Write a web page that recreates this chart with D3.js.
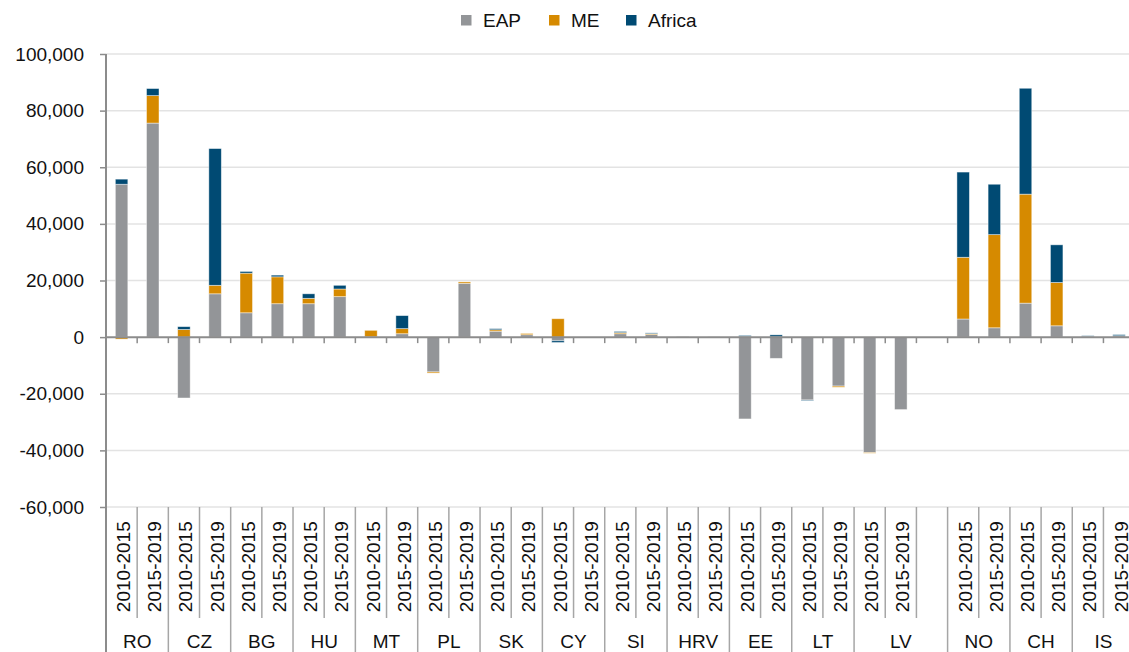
<!DOCTYPE html>
<html>
<head>
<meta charset="utf-8">
<script src="https://cdn.jsdelivr.net/npm/d3@7"></script>
<style>
  html, body { margin: 0; padding: 0; background: #fff; }
  svg { display: block; font-family: "Liberation Sans", Arial, sans-serif; }
</style>
</head>
<body>
<svg id="chart" width="1129" height="652"></svg>
<script>
// ---- data ----
const countries = ["RO","CZ","BG","HU","MT","PL","SK","CY","SI","HRV","EE","LT","LV","NO","CH","IS"];
const periods = ["2010-2015","2015-2019"];
const seriesNames = ["EAP","ME","Africa"];
// values per country: [2010-2015, 2015-2019]
const eap    = [54000,75600, -21500,15300, 8600,11800, 11800,14300, 100,1200, -12300,19000, 2100,850, -1300,0, 1200,900, 200,100, -28900,-7500, -22200,-17300, -40800,-25600, 6400,3300, 12000,4000, 300,500];
const me     = [-700,9700, 2700,3000, 14000,9500, 1900,2700, 2300,1800, -400,500, 500,450, 6500,0, 400,300, 0,0, 200,100, 0,-400, -200,0, 21800,32900, 38500,15300, 0,0];
const africa = [1800,2500, 1000,48300, 600,600, 1600,1300, 0,4600, 0,0, 400,0, -600,0, 400,300, 0,0, 400,700, -200,0, 0,0, 30100,17800, 37400,13300, 200,400];
const paddedGroups = ["LV"]; // groups followed by an empty slot in the original
const yTicks = [-60000,-40000,-20000,0,20000,40000,60000,80000,100000];
const colors = ["#939598","#d68a00","#004a73"];

(function () {
// ---- slots ----
const slots = [];
countries.forEach((c, ci) => {
  periods.forEach((p, pi) => {
    const i = ci * 2 + pi;
    slots.push({key: c + "|" + p, country: c, period: p, EAP: eap[i], ME: me[i], Africa: africa[i]});
  });
  if (paddedGroups.includes(c)) slots.push({key: c + "|blank", country: c, period: "", EAP: 0, ME: 0, Africa: 0});
});

const svg = d3.select("#chart");
const mLeft = 106, slotW = 31.17;
const mRight = mLeft + slots.length * slotW;
const mTop = 54, mBottom = 507;

const x = d3.scaleBand().domain(slots.map(d => d.key)).range([mLeft, mRight]).paddingInner(0).paddingOuter(0);
const y = d3.scaleLinear().domain([-60000, 100000]).range([mBottom, mTop]);
const barW = 12.5;

// gridlines
svg.append("g").selectAll("line").data(yTicks.filter(t => t !== 0)).join("line")
  .attr("x1", mLeft).attr("x2", 1129)
  .attr("y1", d => y(d)).attr("y2", d => y(d))
  .attr("stroke", "#e3e3e3").attr("stroke-width", 1.5);

// y axis
const fmt = d3.format(",");
const yAxis = d3.axisLeft(y).tickValues(yTicks).tickSize(6).tickPadding(16)
  .tickFormat(d => fmt(d).replace("\u2212", "-"));
const yg = svg.append("g").attr("transform", `translate(${mLeft},0)`).call(yAxis);
yg.select(".domain").remove();
yg.selectAll(".tick line").attr("stroke", "#8c8c8c").attr("stroke-width", 1.5);
yg.selectAll(".tick text").attr("font-size", 19).attr("fill", "#111")
  .style("font-family", '"Liberation Sans", Arial, sans-serif');
svg.append("line").attr("x1", mLeft).attr("x2", mLeft).attr("y1", mTop).attr("y2", 652)
  .attr("stroke", "#8c8c8c").attr("stroke-width", 2);

// stacked bars
const stack = d3.stack().keys(seriesNames).offset(d3.stackOffsetDiverging);
const layers = stack(slots);
svg.append("g").selectAll("g").data(layers).join("g")
  .attr("fill", (d, i) => colors[i])
  .selectAll("rect").data(d => d.filter(s => s[1] !== s[0])).join("rect")
  .attr("x", d => x(d.data.key) + x.bandwidth() / 2 - barW / 2)
  .attr("width", barW)
  .attr("y", d => y(Math.max(d[0], d[1])))
  .attr("height", d => Math.abs(y(d[0]) - y(d[1])))
  .attr("stroke", "rgba(255,255,255,0.55)").attr("stroke-width", 0.8);

// zero line + ticks
svg.append("line").attr("x1", mLeft).attr("x2", 1129).attr("y1", y(0)).attr("y2", y(0))
  .attr("stroke", "#8c8c8c").attr("stroke-width", 2);
svg.append("g").selectAll("line").data(slots.slice(1).map(d => x(d.key)).concat([mRight])).join("line")
  .attr("x1", d => d).attr("x2", d => d)
  .attr("y1", y(0)).attr("y2", y(0) + 6)
  .attr("stroke", "#8c8c8c").attr("stroke-width", 1.5);

// category axis: separators
const sep = svg.append("g");
slots.forEach((s, i) => {
  if (i === 0) return;
  const xb = x(s.key);
  const newGroup = slots[i - 1].country !== s.country;
  sep.append("line").attr("x1", xb).attr("x2", xb)
    .attr("y1", mBottom).attr("y2", newGroup ? 652 : 618)
    .attr("stroke", "#a6a6a6").attr("stroke-width", 1.5);
});

// period labels
svg.append("g").selectAll("text").data(slots.filter(s => s.period)).join("text")
  .attr("transform", d => `translate(${x(d.key) + x.bandwidth() / 2},566.7) rotate(-90)`)
  .attr("text-anchor", "middle").attr("dy", "0.45em")
  .attr("font-size", 19).attr("fill", "#111")
  .text(d => d.period);

// country labels
const groupCenters = countries.map(c => {
  const ss = slots.filter(s => s.country === c);
  const x0 = x(ss[0].key), x1 = x(ss[ss.length - 1].key) + x.bandwidth();
  return {c, cx: (x0 + x1) / 2};
});
svg.append("g").selectAll("text").data(groupCenters).join("text")
  .attr("x", d => d.cx).attr("y", 648)
  .attr("text-anchor", "middle").attr("font-size", 19).attr("fill", "#111")
  .text(d => d.c);

// legend
const legendX = [461, 549, 626];
const lg = svg.append("g");
seriesNames.forEach((n, i) => {
  lg.append("rect").attr("x", legendX[i]).attr("y", 15).attr("width", 10.5).attr("height", 10.5).attr("fill", colors[i]);
  lg.append("text").attr("x", legendX[i] + 22).attr("y", 27).attr("font-size", 19).attr("fill", "#111").text(n);
});
})();
</script>
</body>
</html>
